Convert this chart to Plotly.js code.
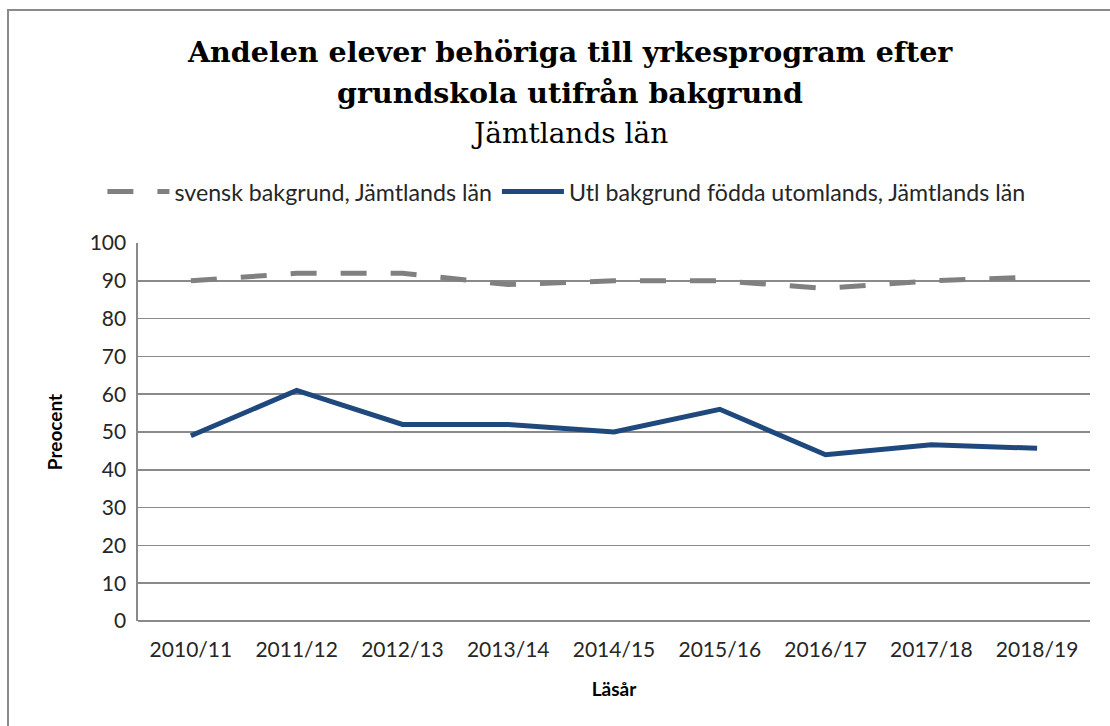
<!DOCTYPE html>
<html>
<head>
<meta charset="utf-8">
<script src="https://cdn.plot.ly/plotly-3.0.1.min.js"></script>
<style>
  html, body { margin: 0; padding: 0; background: #fff; }
  #wrap { position: relative; width: 1110px; height: 726px; overflow: hidden; }
  #chart { width: 1110px; height: 726px; }
  #frame { position: absolute; left: 7px; top: 9px; right: -10px; bottom: -10px;
           border-left: 2px solid #8a8a8a; border-top: 2px solid #8a8a8a; pointer-events: none; }
</style>
</head>
<body>
<div id="wrap">
  <div id="chart"></div>
  <div id="frame"></div>
</div>
<script>
const categories = ["2010/11", "2011/12", "2012/13", "2013/14", "2014/15", "2015/16", "2016/17", "2017/18", "2018/19"];
const svenskBakgrund = [90, 92, 92, 89, 90, 90, 88, 90, 91];
const utlBakgrund = [49, 61, 52, 52, 50, 56, 44, 46.6, 45.7];
const seriesNames = ["svensk bakgrund, Jämtlands län", "Utl bakgrund födda utomlands, Jämtlands län"];
const yTicks = [0, 10, 20, 30, 40, 50, 60, 70, 80, 90, 100];
const titleLines = ["Andelen elever behöriga till yrkesprogram efter", "grundskola utifrån bakgrund"];
const subtitle = "Jämtlands län";

const traces = [
  {
    x: categories, y: svenskBakgrund, name: seriesNames[0],
    type: "scatter", mode: "lines",
    line: { color: "#808080", width: 5, dash: "26px,24px" },
    hoverinfo: "skip"
  },
  {
    x: categories, y: utlBakgrund, name: seriesNames[1],
    type: "scatter", mode: "lines",
    line: { color: "#1F497D", width: 5 },
    hoverinfo: "skip"
  }
];

const titleFont = { family: "DejaVu Serif, serif", size: 28.5, color: "#000000", weight: "bold" };

const layout = {
  width: 1110, height: 726,
  margin: { l: 138, r: 20, t: 243, b: 105 },
  paper_bgcolor: "#ffffff", plot_bgcolor: "#ffffff",
  showlegend: true,
  title: { text: "" },
  annotations: [
    { text: "<b>" + titleLines[0] + "</b>", xref: "paper", yref: "paper", x: 0.4535, y: 1.505,
      xanchor: "center", yanchor: "middle", showarrow: false, font: titleFont },
    { text: "<b>" + titleLines[1] + "</b>", xref: "paper", yref: "paper", x: 0.4535, y: 1.397,
      xanchor: "center", yanchor: "middle", showarrow: false, font: titleFont },
    { text: subtitle, xref: "paper", yref: "paper", x: 0.4535, y: 1.289,
      xanchor: "center", yanchor: "middle", showarrow: false,
      font: { family: "DejaVu Serif, serif", size: 28, color: "#000000" } }
  ],
  legend: {
    orientation: "h",
    x: 0.45, xanchor: "center",
    y: 1.135, yanchor: "middle",
    font: { family: "Lato, sans-serif", size: 23.2, color: "#262626" },
    itemwidth: 62,
    traceorder: "normal",
    bgcolor: "rgba(0,0,0,0)"
  },
  xaxis: {
    type: "category",
    range: [-0.5, categories.length - 0.5],
    showgrid: false,
    showline: false,
    zeroline: false,
    ticks: "",
    tickfont: { family: "Lato, sans-serif", size: 21, color: "#262626" },
    ticklabelstandoff: 14,
    title: { text: "<b>Läsår</b>", font: { family: "Lato, sans-serif", size: 19, color: "#000000" }, standoff: 22 },
    fixedrange: true
  },
  yaxis: {
    range: [0, 100],
    tickvals: yTicks,
    showgrid: true,
    gridcolor: "#8a8a8a",
    gridwidth: 1.6,
    showline: true,
    linecolor: "#8a8a8a",
    linewidth: 1.6,
    zeroline: true,
    zerolinecolor: "#8a8a8a",
    zerolinewidth: 1.6,
    ticks: "",
    tickfont: { family: "Lato, sans-serif", size: 21, color: "#262626" },
    ticklabelstandoff: 6,
    title: { text: "<b>Preocent</b>", font: { family: "Lato, sans-serif", size: 19, color: "#000000" }, standoff: 22 },
    fixedrange: true
  }
};

Plotly.newPlot("chart", traces, layout, { displayModeBar: false, staticPlot: true });
</script>
</body>
</html>
